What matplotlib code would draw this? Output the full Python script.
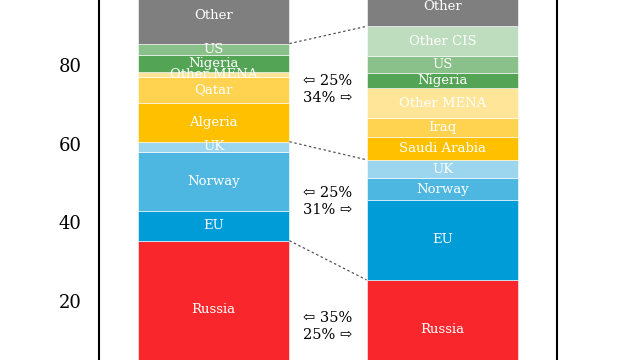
import numpy as np
import matplotlib.pyplot as plt

plt.rcParams['font.family'] = ['DejaVu Serif', 'DejaVu Sans']

# left bar (before), bottom to top
left_names = ['Russia', 'EU', 'Norway', 'UK', 'Algeria', 'Qatar', 'Other MENA', 'Nigeria', 'US', 'Other']
left_vals = [35.3, 7.6, 15.1, 2.5, 9.8, 6.8, 1.2, 4.4, 2.8, 14.5]
left_cols = ['#F9262B', '#009CD7', '#4EB7E1', '#9BD6EE', '#FFC000', '#FFD24F', '#FFE597', '#54A456', '#8AC08A', '#7F7F7F']

# right bar (after), bottom to top
right_names = ['Russia', 'EU', 'Norway', 'UK', 'Saudi Arabia', 'Iraq', 'Other MENA', 'Nigeria', 'US', 'Other CIS', 'Other']
right_vals = [25.3, 20.4, 5.5, 4.7, 5.7, 5.0, 7.5, 4.0, 4.3, 7.5, 10.1]
right_cols = ['#F9262B', '#009CD7', '#4EB7E1', '#9BD6EE', '#FFC000', '#FFD24F', '#FFE597', '#54A456', '#8AC08A', '#BEDDBE', '#7F7F7F']

# group shares: (left %, right %, text y)
groups = [(35, 25, 13.5), (25, 31, 45.2), (25, 34, 73.8)]
# boundaries joined by dotted lines: (index of top segment in left, in right)
links = [(0, 0), (3, 3), (8, 9)]

fig = plt.figure(figsize=(6.4, 3.6), dpi=100)
ax = fig.add_axes([99 / 640, 0, 458 / 640, 1])

w = 0.663


def draw_bar(x, names, vals, cols):
    bottom = 0
    for n, v, c in zip(names, vals, cols):
        ax.bar(x, v, w, bottom=bottom, color=c, edgecolor='white', linewidth=0.4)
        ax.text(x, bottom + v / 2, n, ha='center', va='center', color='white', fontsize=9.5)
        bottom += v


draw_bar(0, left_names, left_vals, left_cols)
draw_bar(1, right_names, right_vals, right_cols)

lc = np.cumsum(left_vals)
rc = np.cumsum(right_vals)
for i, j in links:
    ax.plot([w / 2, 1 - w / 2], [lc[i], rc[j]], color='#555555', lw=0.9, ls=(0, (2, 2)))

for lp, rp, y in groups:
    ax.text(0.5, y + 2.2, '⇦ %d%%' % lp, ha='center', va='center', fontsize=10.5)
    ax.text(0.5, y - 2.2, '%d%% ⇨' % rp, ha='center', va='center', fontsize=10.5)

ax.set_xlim(-0.5, 1.5)
ax.set_ylim(4.9, 96.6)
ax.set_yticks([20, 40, 60, 80])
ax.tick_params(axis='y', length=0, pad=12.5, labelsize=13)
ax.set_xticks([])
ax.spines['top'].set_visible(False)
ax.spines['bottom'].set_visible(False)
ax.spines['left'].set_linewidth(1.5)
ax.spines['right'].set_linewidth(1.5)

fig.savefig('out.png', dpi=100)
